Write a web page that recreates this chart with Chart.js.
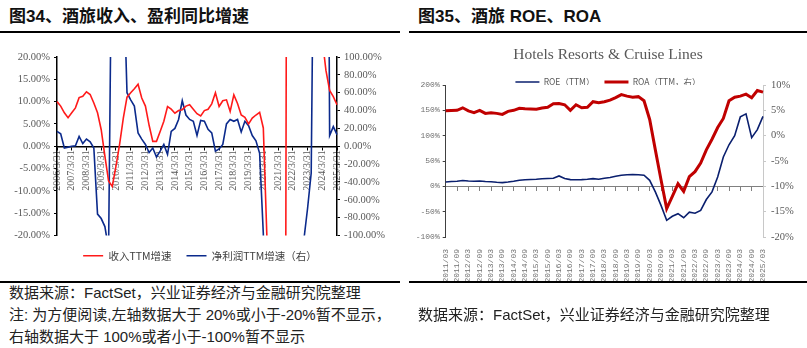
<!DOCTYPE html>
<html>
<head>
<meta charset="utf-8">
<script src="https://cdn.jsdelivr.net/npm/chart.js@4.4.0/dist/chart.umd.min.js"></script>
<style>
  body { margin: 0; background: #fff; width: 807px; height: 348px; position: relative; overflow: hidden;
         font-family: "Liberation Sans", "Noto Sans CJK SC", sans-serif; color: #111; }
  .title { position: absolute; top: 7px; font-size: 17px; line-height: 20px; font-weight: bold; white-space: nowrap; }
  .rule { position: absolute; height: 1.5px; background: #000; }
  .note { position: absolute; font-size: 15px; line-height: 22px; white-space: nowrap; color: #222; }
  canvas { position: absolute; }
</style>
</head>
<body>
<div class="title" style="left:9px;">图34、酒旅收入、盈利同比增速</div>
<div class="title" style="left:418px;">图35、酒旅 ROE、ROA</div>
<div class="rule" style="left:0;width:400px;top:31px;"></div>
<div class="rule" style="left:409px;width:398px;top:31px;"></div>

<canvas id="growth" width="400" height="231" style="left:0;top:40px;"></canvas>
<canvas id="returns" width="398" height="245" style="left:409px;top:40px;"></canvas>

<div class="rule" style="left:0;width:400px;top:281px;"></div>
<div class="rule" style="left:409px;width:398px;top:281px;"></div>
<div class="note" style="left:9px;top:282px;">数据来源：FactSet，兴业证券经济与金融研究院整理<br>注: 为方便阅读,左轴数据大于 20%或小于-20%暂不显示，<br>右轴数据大于 100%或者小于-100%暂不显示</div>
<div class="note" style="left:418px;top:304px;">数据来源：FactSet，兴业证券经济与金融研究院整理</div>

<script>
// quarterly labels
var quarterEnds = ['3/31', '6/30', '9/30', '12/31'];
var growthLabels = [];
for (var yr = 2006; yr <= 2025; yr++) {
    quarterEnds.forEach(function(q) { growthLabels.push(yr + '/' + q); });
}
growthLabels = growthLabels.slice(0, 77);

var quarterMonths = ['03', '06', '09', '12'];
var returnLabels = [];
for (var y2 = 2011; y2 <= 2025; y2++) {
    quarterMonths.forEach(function(m) { returnLabels.push(y2 + '/' + m); });
}
returnLabels = returnLabels.slice(0, 57);

// 收入TTM增速 (%) - left axis
var revenueGrowth = [10.0, 9.0, 7.5, 6.4, 7.5, 8.6, 10.9, 11.2, 12.2, 11.6,
    9.7, 7.5, 3.7, -2.2, -7.8, -9.0, -4.5, 0.5, 6.3, 11.0,
    12.0, 12.9, 13.9, 10.8, 9.0, 4.7, 1.1, 1.1, 3.3, 5.6,
    8.9, 8.3, 7.4, 8.0, 8.2, 9.0, 9.3, 8.3, 7.3, 6.8,
    8.0, 8.3, 9.5, 12.0, 8.9, 10.2, 10.4, 7.8, 11.5, 9.6,
    7.0, 6.5, 5.0, 6.3, 7.0, 7.6, 4.1, -21, -70, -90,
    -95, -85, -60, 300, 800, 600, 300, 150, 100, 70,
    50, 35, 24, 17, 12.5, 11.1, 9.3];

// 净利润TTM增速 (%) - right axis
var profitGrowth = [16.7, 14, -2, -1, 0, 0.5, 11, 3, 8, 5,
    -2, -76, -81, -90, -115, 300, 500, 400, 200, 60,
    52, 45, 15, 8, 2, -7, -2, -12, -5.5, 2,
    -9, 16.7, 20, 30, 51, 35, 30, 28, 12, 29,
    28, 19, 15, -5.5, -3, 2, 25, 30, 28, 30,
    16, 28, 23, 12, 6, -8, -98, -300, -500, -600,
    -700, -500, -400, -300, -250, -200, -150, -105, -70, -30,
    400, 600, 900, 800, 12, 22, 13];

// ROE (TTM) % - left axis
var roe = [8.5, 9.5, 10, 11.5, 10.5, 10, 10.5, 9.5, 9, 8,
    7.3, 8.5, 10, 12, 13, 13.5, 14, 15, 15.5, 16,
    20.5, 15.5, 13.2, 13, 13.2, 14, 15.2, 14, 16, 17.5,
    19.8, 22, 23, 23.5, 23, 22, 11.9, -11, -37.6, -67,
    -59, -54, -62, -51, -53, -47.5, -26, -11, 18.5, 58,
    82, 100, 137, 143, 96, 112, 138];

// ROA (TTM) % - right axis
var roa = [4.9, 4.95, 5.0, 5.5, 4.9, 4.55, 5.0, 4.4, 4.5, 4.4,
    4.2, 4.8, 5.0, 5.4, 5.3, 5.25, 5.2, 5.45, 5.6, 6.3,
    6.35, 6.1, 5.0, 6.1, 5.5, 5.6, 6.7, 6.5, 6.7, 7.0,
    7.5, 8.1, 7.8, 7.6, 7.7, 6.9, 3.2, -2.8, -8.7, -14.4,
    -12, -9.5, -11, -8.1, -7.1, -5.4, -2.8, -0.7, 1.6, 3.4,
    6.9, 7.6, 7.8, 8.2, 7.5, 8.9, 8.6];

var serif = 'Liberation Serif';
var mono = 'Liberation Mono';
var cjk = '"Noto Sans CJK SC", sans-serif';
var grey = '#595959';

// ---- 图34 ----
new Chart(document.getElementById('growth').getContext('2d'), {
    type: 'line',
    data: {
        labels: growthLabels,
        datasets: [{
            label: '收入TTM增速',
            data: revenueGrowth,
            yAxisID: 'y',
            borderColor: '#ff1a1a',
            backgroundColor: '#ff1a1a',
            borderWidth: 1.6,
            pointRadius: 0,
            tension: 0
        }, {
            label: '净利润TTM增速（右）',
            data: profitGrowth,
            yAxisID: 'y1',
            borderColor: '#0b2a8c',
            backgroundColor: '#0b2a8c',
            borderWidth: 1.6,
            pointRadius: 0,
            tension: 0
        }]
    },
    options: {
        responsive: false,
        animation: false,
        layout: { padding: { top: 17, left: 0, right: 0, bottom: 0 } },
        plugins: {
            tooltip: { enabled: false },
            legend: {
                position: 'bottom',
                labels: {
                    usePointStyle: true,
                    pointStyle: 'line',
                    pointStyleWidth: 20,
                    padding: 15,
                    color: '#404040',
                    font: { family: cjk, size: 10.5 }
                }
            }
        },
        scales: {
            x: {
                type: 'category',
                position: { y: 0 },
                afterFit: function(s) { s.height = 0; },
                grid: {
                    drawOnChartArea: false,
                    tickLength: 3,
                    tickColor: function(c) { return c.index % 4 === 0 ? '#000' : 'rgba(0,0,0,0)'; }
                },
                border: { color: '#000', width: 1.5 },
                ticks: {
                    autoSkip: false,
                    minRotation: 90,
                    maxRotation: 90,
                    padding: 1,
                    color: grey,
                    font: { family: serif, size: 10 },
                    callback: function(v, i) { return i % 4 === 0 ? this.getLabelForValue(v) : ''; }
                }
            },
            y: {
                position: 'left',
                min: -20,
                max: 20,
                afterFit: function(s) { s.width = 57; },
                grid: { drawOnChartArea: false, tickLength: 3, tickColor: '#000' },
                border: { color: '#000', width: 1.5 },
                ticks: {
                    stepSize: 5,
                    padding: 4,
                    color: grey,
                    font: { family: serif, size: 10.5 },
                    callback: function(v) { return v.toFixed(2) + '%'; }
                }
            },
            y1: {
                position: 'right',
                min: -100,
                max: 100,
                afterFit: function(s) { s.width = 63; },
                grid: { drawOnChartArea: false, tickLength: 3, tickColor: '#000' },
                border: { color: '#000', width: 1.5 },
                ticks: {
                    stepSize: 20,
                    padding: 4,
                    color: grey,
                    font: { family: serif, size: 10.5 },
                    callback: function(v) { return v.toFixed(2) + '%'; }
                }
            }
        }
    }
});

// ---- 图35 ----
new Chart(document.getElementById('returns').getContext('2d'), {
    type: 'line',
    data: {
        labels: returnLabels,
        datasets: [{
            label: 'ROE（TTM）',
            data: roe,
            yAxisID: 'y',
            borderColor: '#0a1f6e',
            backgroundColor: '#0a1f6e',
            borderWidth: 1.6,
            pointRadius: 0,
            tension: 0
        }, {
            label: 'ROA（TTM，右）',
            data: roa,
            yAxisID: 'y1',
            borderColor: '#c00000',
            backgroundColor: '#c00000',
            borderWidth: 3,
            pointRadius: 0,
            tension: 0
        }]
    },
    options: {
        responsive: false,
        animation: false,
        layout: { padding: 0 },
        plugins: {
            tooltip: { enabled: false },
            title: {
                display: true,
                text: 'Hotels Resorts & Cruise Lines',
                color: grey,
                font: { family: serif, size: 15.5, weight: 'normal' },
                padding: { top: 5.7, bottom: 3.4 }
            },
            legend: {
                position: 'top',
                maxHeight: 17.3,
                labels: {
                    usePointStyle: true,
                    pointStyle: 'line',
                    pointStyleWidth: 24,
                    padding: 10,
                    color: grey,
                    font: { family: cjk, size: 8.5 }
                }
            }
        },
        scales: {
            x: {
                type: 'category',
                position: 'bottom',
                afterFit: function(s) { s.height = 48; },
                grid: { display: false },
                border: { display: false },
                ticks: {
                    autoSkip: false,
                    minRotation: 90,
                    maxRotation: 90,
                    padding: 4,
                    color: '#707070',
                    font: { family: mono, size: 8 },
                    callback: function(v, i) { return i % 2 === 0 ? this.getLabelForValue(v) : ''; }
                }
            },
            x2: {
                type: 'category',
                position: { y: 0 },
                afterFit: function(s) { s.height = 0; },
                grid: {
                    drawOnChartArea: false,
                    tickLength: 4,
                    tickColor: function(c) { return c.index % 2 === 0 ? '#808080' : 'rgba(0,0,0,0)'; }
                },
                border: { color: '#808080', width: 1 },
                ticks: { display: false, autoSkip: false }
            },
            y: {
                position: 'left',
                min: -100,
                max: 200,
                afterFit: function(s) { s.width = 36.7; },
                grid: { drawOnChartArea: false, tickLength: 3, tickColor: '#404040' },
                border: { color: '#404040', width: 1 },
                ticks: {
                    stepSize: 50,
                    padding: 3,
                    color: '#707070',
                    font: { family: mono, size: 8 },
                    callback: function(v) { return v + '%'; }
                }
            },
            y1: {
                position: 'right',
                min: -20,
                max: 10,
                afterFit: function(s) { s.width = 44; },
                grid: { drawOnChartArea: false, tickLength: 3, tickColor: '#c8c8c8' },
                border: { color: '#c8c8c8', width: 1 },
                ticks: {
                    stepSize: 5,
                    padding: 5,
                    color: grey,
                    font: { family: serif, size: 10.5 },
                    callback: function(v) { return v + '%'; }
                }
            }
        }
    }
});
</script>
</body>
</html>
